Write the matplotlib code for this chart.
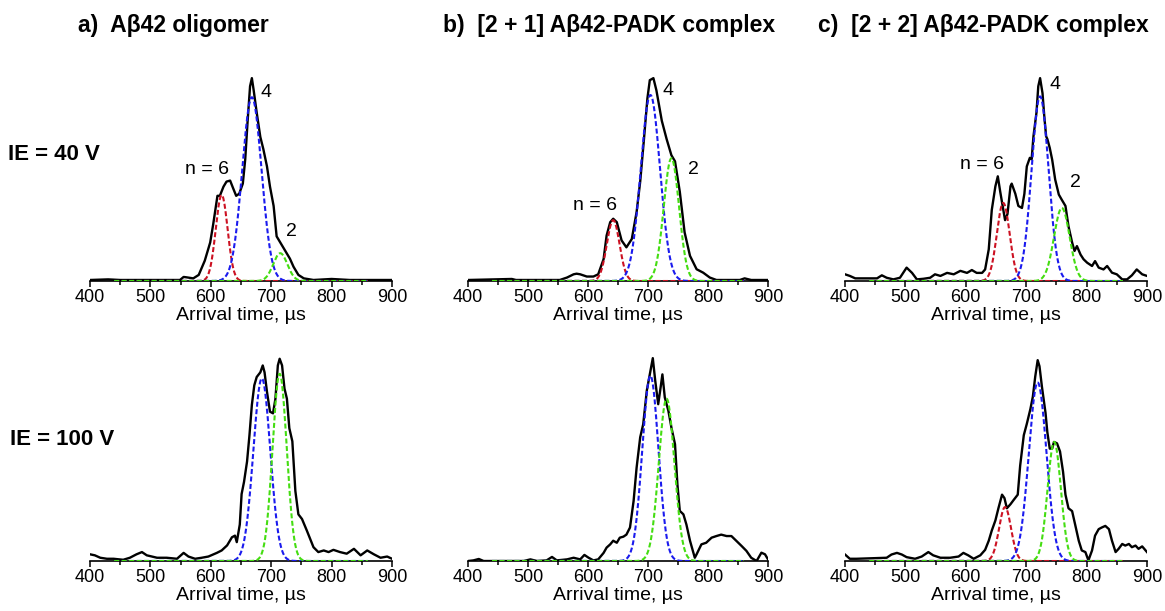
import numpy as np
import matplotlib
matplotlib.use('Agg')
import matplotlib.pyplot as plt

plt.rcParams['font.family'] = ['Liberation Sans', 'DejaVu Sans']

# 到着時間分布（各パネルの実測トレース、最大値=1 に規格化）
a1_t = [400, 430, 450, 500, 540, 549, 555, 560, 571, 580, 590, 599, 604, 611, 615, 621, 626, 632,
        637, 642, 647, 653, 657, 661, 665, 668, 671, 676, 682, 687, 693, 698, 704, 709, 715, 723,
        731, 737, 745, 754, 770, 800, 830, 860, 900]
a1_y = [.005, .008, .005, .005, .005, .005, .02, .018, .013, .03, .10, .19, .28, .42, .42, .465, .49, .495,
        .457, .42, .43, .48, .60, .79, .96, 1.0, .94, .83, .71, .65, .565, .465, .37, .22, .19, .15,
        .11, .07, .03, .013, .005, .01, .005, .005, .005]

b1_t = [400, 473, 480, 553, 565, 576, 581, 587, 598, 609, 617, 626, 631, 637, 642, 648, 656, 664,
        673, 681, 687, 693, 699, 703, 709, 714, 723, 731, 739, 745, 753, 761, 770, 781, 792, 803,
        814, 853, 861, 872, 900]
b1_y = [.005, .01, .005, .005, .017, .033, .036, .033, .022, .022, .033, .108, .224, .29, .307, .29, .20, .166,
        .207, .34, .49, .69, .90, .99, 1.0, .94, .79, .70, .62, .59, .44, .24, .124, .058, .041, .017,
        .005, .005, .013, .005, .005]

c1_t = [400, 408, 417, 436, 453, 461, 469, 480, 491, 502, 511, 519, 530, 541, 549, 558, 569, 580,
        591, 602, 610, 618, 627, 632, 638, 643, 649, 653, 657, 661, 665, 669, 674, 676, 682, 687,
        693, 697, 701, 706, 709, 712, 717, 720, 723, 727, 730, 733, 735, 739, 743, 748, 754, 759,
        765, 770, 776, 780, 784, 790, 795, 801, 809, 814, 820, 828, 834, 842, 850, 859, 867, 875,
        883, 892, 900]
c1_y = [.033, .025, .013, .013, .013, .028, .016, .008, .016, .066, .04, .008, .011, .016, .033, .025, .04, .033,
        .05, .04, .054, .04, .04, .057, .156, .35, .467, .516, .44, .37, .30, .33, .467, .48, .43, .37,
        .36, .43, .565, .607, .60, .713, .83, .96, 1.0, .926, .81, .713, .70, .656, .598, .50, .426, .40,
        .37, .27, .19, .148, .172, .13, .107, .09, .074, .098, .066, .057, .074, .041, .033, .008, .008, .028,
        .057, .033, .025]

a2_t = [400, 408, 417, 428, 439, 455, 466, 477, 486, 494, 511, 527, 544, 555, 563, 574, 585, 596,
        610, 618, 627, 635, 640, 643, 648, 651, 655, 660, 664, 668, 672, 676, 682, 686, 689, 693,
        698, 703, 707, 711, 714, 718, 722, 726, 730, 735, 740, 745, 751, 759, 770, 778, 787, 795,
        803, 814, 825, 837, 848, 859, 870, 881, 892, 900]
a2_y = [.033, .028, .016, .011, .011, .006, .016, .033, .044, .028, .016, .016, .011, .04, .022, .011, .016, .022,
        .04, .052, .077, .117, .125, .093, .18, .33, .39, .49, .62, .77, .866, .907, .93, .964, .93, .834,
        .736, .728, .80, .964, .997, .964, .85, .80, .655, .59, .345, .23, .207, .15, .068, .044, .052, .044,
        .055, .044, .036, .06, .028, .052, .033, .016, .022, .011]

b2_t = [400, 409, 418, 426, 493, 504, 515, 531, 540, 548, 565, 576, 587, 594, 601, 609, 617, 626,
        631, 637, 642, 648, 653, 659, 664, 670, 676, 681, 687, 692, 698, 703, 708, 712, 717, 721,
        724, 728, 734, 739, 745, 749, 753, 759, 764, 770, 778, 781, 789, 797, 806, 814, 822, 831,
        839, 847, 856, 864, 872, 881, 889, 895, 900]
b2_y = [0, .003, .01, 0, 0, .008, 0, .003, .02, .003, .008, .016, .008, .03, .016, .003, .008, .04,
        .066, .082, .10, .09, .115, .12, .13, .165, .296, .46, .61, .674, .84, .92, 1.0, .89, .773, .855,
        .92, .806, .74, .658, .576, .378, .247, .23, .18, .10, .016, .033, .082, .09, .115, .123, .13, .123,
        .123, .10, .074, .05, .016, 0, .041, .033, .008]

c2_t = [400, 408, 419, 469, 477, 486, 494, 502, 516, 527, 538, 546, 558, 574, 588, 596, 604, 613,
        624, 632, 638, 643, 649, 654, 660, 664, 668, 674, 679, 686, 690, 696, 701, 707, 711, 715,
        719, 722, 726, 732, 735, 739, 743, 746, 751, 756, 761, 765, 770, 776, 781, 787, 792, 798,
        803, 809, 814, 820, 825, 831, 837, 842, 848, 853, 859, 864, 870, 875, 881, 886, 892, 900]
c2_y = [.032, .011, .011, .016, .032, .04, .032, .019, .011, .022, .044, .028, .016, .016, .022, .04, .028, .011,
        .028, .055, .10, .15, .20, .26, .327, .31, .26, .28, .30, .327, .47, .62, .676, .75, .81, .91,
        .99, .96, .86, .73, .635, .554, .554, .587, .58, .54, .44, .327, .26, .246, .18, .10, .052, .044,
        .003, .052, .125, .157, .165, .173, .157, .10, .044, .06, .084, .076, .084, .068, .076, .06, .072, .044]

# ガウスフィットのパラメータ (中心 µs, 高さ, σ µs)  n = 6 / 4 / 2
a1_fit = [(618, .424, 9.8), (668, .906, 16.0), (715, .137, 11.7)]
b1_fit = [(642, .30, 10.6), (704, .917, 16.0), (739, .605, 12.7)]
c1_fit = [(662, .385, 10.6), (723, .91, 14.0), (759, .36, 12.9)]
a2_fit = [None, (684.5, .90, 14.0), (714, .923, 11.7)]
b2_fit = [None, (704, .913, 13.4), (731, .80, 13.0)]
c2_fit = [(665, .266, 9.9), (719, .88, 14.6), (746.4, .587, 11.0)]

fit_colors = ['#cc1122', '#1a1aee', '#44dd11']

titles = ['a)  A\u03b242 oligomer', 'b)  [2 + 1] A\u03b242-PADK complex', 'c)  [2 + 2] A\u03b242-PADK complex']
row_labels = ['IE = 40 V', 'IE = 100 V']

# ピークラベル (x, y, 文字)
a1_labels = [(593, .55, 'n = 6'), (692, .93, '4'), (734, .243, '2')]
b1_labels = [(612, .37, 'n = 6'), (734, .937, '4'), (775, .55, '2')]
c1_labels = [(626, .576, 'n = 6'), (748, .97, '4'), (781, .486, '2')]

panels = [
    (a1_t, a1_y, a1_fit, a1_labels),
    (b1_t, b1_y, b1_fit, b1_labels),
    (c1_t, c1_y, c1_fit, c1_labels),
    (a2_t, a2_y, a2_fit, []),
    (b2_t, b2_y, b2_fit, []),
    (c2_t, c2_y, c2_fit, []),
]

fig = plt.figure(figsize=(11.65, 6.11), dpi=100)

lefts = [90 / 1165, 468 / 1165, 845 / 1165]
widths = [302 / 1165, 300 / 1165, 302 / 1165]
bottoms = [330 / 611, 50 / 611]
h = 213 / 611

tt = np.linspace(440, 860, 500)

for i, (t, y, fit, labels) in enumerate(panels):
    r, c = divmod(i, 3)
    ax = fig.add_axes([lefts[c], bottoms[r], widths[c], h])
    ax.plot(t, y, color='black', lw=1.7, solid_joinstyle='round', zorder=2)
    for k, p in enumerate(fit):
        if p is None:
            continue
        mu, amp, sig = p
        g = amp * np.exp(-0.5 * ((tt - mu) / sig) ** 2)
        ax.plot(tt, g, color=fit_colors[k], lw=1.5, dashes=(2.4, 1.2), zorder=3)
    for (lx, ly, s) in labels:
        ax.text(lx, ly, s, fontsize=14, ha='center', va='center')
    ax.set_xlim(400, 900)
    ax.set_ylim(0, 1.05)
    for sp in ['left', 'right', 'top']:
        ax.spines[sp].set_visible(False)
    ax.spines['bottom'].set_linewidth(1.2)
    ax.set_yticks([])
    ax.set_xticks([400, 500, 600, 700, 800, 900])
    ax.set_xticks(np.arange(450, 900, 100), minor=True)
    ax.tick_params(axis='x', which='major', direction='out', length=4, width=1.1, labelsize=13, pad=2)
    ax.tick_params(axis='x', which='minor', direction='out', length=3, width=1.1)
    ax.set_xlabel('Arrival time, \u00b5s', fontsize=14, labelpad=0.5)
    ax.patch.set_visible(False)

title_x = [78 / 1165, 443 / 1165, 818 / 1165]
for x, s in zip(title_x, titles):
    fig.text(x, 1 - 32 / 611, s, fontsize=16.5, fontweight='bold', ha='left', va='baseline')

fig.text(8 / 1165, 1 - 160 / 611, row_labels[0], fontsize=16, fontweight='bold', ha='left', va='baseline')
fig.text(10 / 1165, 1 - 445 / 611, row_labels[1], fontsize=16, fontweight='bold', ha='left', va='baseline')

plt.savefig('out.png', dpi=100)
